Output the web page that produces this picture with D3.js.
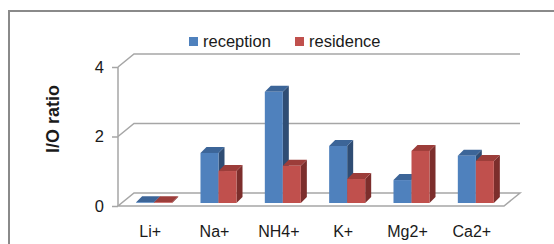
<!DOCTYPE html>
<html>
<head>
<meta charset="utf-8">
<script src="https://cdn.jsdelivr.net/npm/d3@7"></script>
<style>
  body { margin: 0; background: #fff; }
  text { font-family: "Liberation Sans", Arial, sans-serif; fill: #1a1a1a; }
</style>
</head>
<body>
<div id="chart"></div>
<script>
const categories = ['Li+', 'Na+', 'NH4+', 'K+', 'Mg2+', 'Ca2+'];
const seriesNames = ['reception', 'residence'];
const reception = [0.02, 1.44, 3.2, 1.64, 0.66, 1.36];
const residence = [0.02, 0.92, 1.07, 0.69, 1.5, 1.21];
const yTicks = [0, 2, 4];

const width = 554, height = 244;
const plot = { left: 118, right: 504, top: 67, bottom: 206 };
const depth = { dx: 16, dy: -13 };      // floor / wall depth
const barShift = { dx: 4, dy: -3 };     // bar plane behind front edge
const barDepth = { dx: 6, dy: -6 };

const colors = {
  reception: { front: '#4f81bd', top: '#3c6598', side: '#2f4d74' },
  residence: { front: '#c0504d', top: '#9c3d3a', side: '#7c2e2c' }
};
const gridColor = '#a6a6a6';

const svg = d3.select('#chart').append('svg')
  .attr('width', width)
  .attr('height', height);

// outer frame
svg.append('rect')
  .attr('x', 9).attr('y', 11)
  .attr('width', width).attr('height', height)
  .attr('fill', 'none')
  .attr('stroke', '#8a8a8a')
  .attr('stroke-width', 2);

const x = d3.scaleBand().domain(categories)
  .range([plot.left, plot.right])
  .paddingInner(0.44).paddingOuter(0.22);
const xs = d3.scaleBand().domain(seriesNames)
  .range([0, x.bandwidth()]);
const y = d3.scaleLinear().domain([0, 4]).range([plot.bottom, plot.top]);

// floor
const floor = [
  [plot.left, y(0)], [plot.right, y(0)],
  [plot.right + depth.dx, y(0) + depth.dy], [plot.left + depth.dx, y(0) + depth.dy]
];
svg.append('polygon')
  .attr('points', floor.map(p => p.join(',')).join(' '))
  .attr('fill', 'none')
  .attr('stroke', gridColor)
  .attr('stroke-width', 1.5);

// gridlines on back wall with slanted side-wall lines
const grid = svg.append('g').attr('stroke', gridColor).attr('stroke-width', 1.5).attr('fill', 'none');
yTicks.filter(t => t > 0).forEach(t => {
  grid.append('path')
    .attr('d', `M${plot.left},${y(t)}L${plot.left + depth.dx},${y(t) + depth.dy}H${plot.right + depth.dx}`);
});

// y axis line + ticks
svg.append('line')
  .attr('x1', plot.left).attr('x2', plot.left)
  .attr('y1', y(4)).attr('y2', y(0))
  .attr('stroke', gridColor).attr('stroke-width', 1.5);
const yAxis = svg.append('g')
  .attr('transform', `translate(${plot.left},0)`)
  .call(d3.axisLeft(y).tickValues(yTicks).tickSize(6).tickPadding(8).tickFormat(d3.format('d')));
yAxis.select('.domain').remove();
yAxis.selectAll('.tick line').attr('stroke', gridColor).attr('stroke-width', 1.5);
yAxis.selectAll('.tick text').style('font-size', '16.5px').attr('fill', '#1a1a1a');

// bars
const data = categories.map((c, i) => ({ cat: c, values: [
  { key: 'reception', value: reception[i] },
  { key: 'residence', value: residence[i] }
]}));

const groups = svg.selectAll('.group')
  .data(data)
  .enter().append('g')
  .attr('class', 'group')
  .attr('transform', d => `translate(${x(d.cat) + barShift.dx},${barShift.dy})`);

// left bar first so the right one covers its side face
groups.each(function(d) {
  const g = d3.select(this);
  d.values.forEach(v => {
    const x0 = xs(v.key), w = xs.bandwidth();
    const yt = y(v.value), yb = y(0);
    const c = colors[v.key];
    g.append('polygon')
      .attr('points', [[x0 + w, yb], [x0 + w + barDepth.dx, yb + barDepth.dy],
        [x0 + w + barDepth.dx, yt + barDepth.dy], [x0 + w, yt]].map(p => p.join(',')).join(' '))
      .attr('fill', c.side);
    g.append('polygon')
      .attr('points', [[x0, yt], [x0 + barDepth.dx, yt + barDepth.dy],
        [x0 + w + barDepth.dx, yt + barDepth.dy], [x0 + w, yt]].map(p => p.join(',')).join(' '))
      .attr('fill', c.top);
    g.append('rect')
      .attr('x', x0).attr('y', yt)
      .attr('width', w).attr('height', Math.max(0, yb - yt))
      .attr('fill', c.front);
  });
});

// category labels
const xAxis = svg.append('g')
  .attr('transform', `translate(0,${plot.bottom})`)
  .call(d3.axisBottom(x).tickSize(0).tickPadding(20));
xAxis.select('.domain').remove();
xAxis.selectAll('.tick text').style('font-size', '16px').attr('fill', '#1a1a1a');

// y title
svg.append('text')
  .attr('transform', `translate(59,119) rotate(-90)`)
  .attr('text-anchor', 'middle')
  .style('font-size', '18px')
  .style('font-weight', 'bold')
  .text('I/O ratio');

// legend
const legendX = [189, 295];
const legend = svg.selectAll('.legend')
  .data(seriesNames)
  .enter().append('g')
  .attr('class', 'legend')
  .attr('transform', (d, i) => `translate(${legendX[i]},37)`);
legend.append('rect')
  .attr('width', 9).attr('height', 9)
  .attr('fill', d => colors[d].front);
legend.append('text')
  .attr('x', 14).attr('y', 10)
  .style('font-size', '16.5px')
  .text(d => d);
</script>
</body>
</html>
